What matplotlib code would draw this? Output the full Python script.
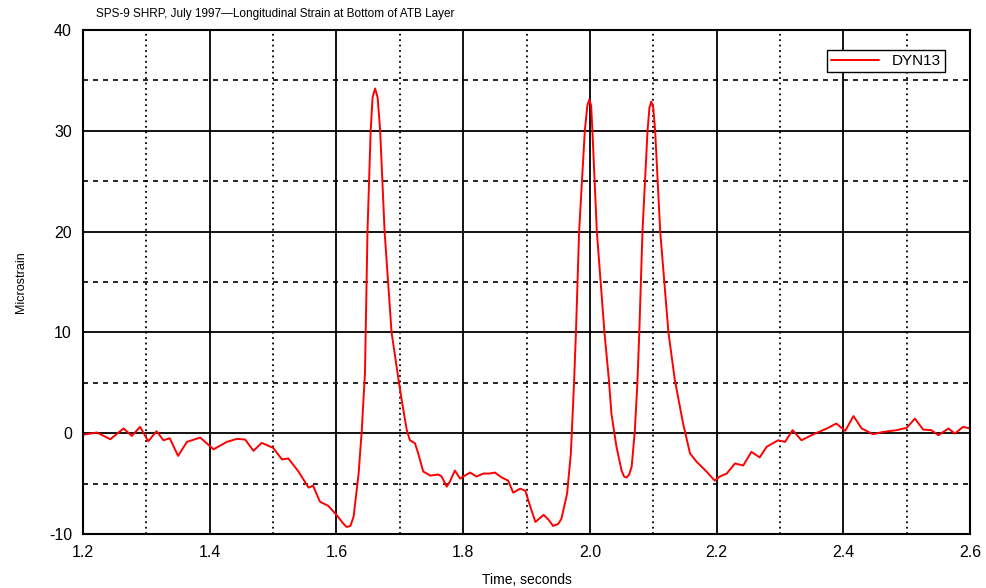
import matplotlib.pyplot as plt
from matplotlib.ticker import MultipleLocator

plt.rcParams['font.family'] = ['Liberation Sans', 'DejaVu Sans']
plt.rcParams['axes.unicode_minus'] = False

# DYN13 trace
time = [1.195, 1.222, 1.243, 1.264, 1.277, 1.290, 1.303, 1.316, 1.327, 1.337,
        1.350, 1.364, 1.385, 1.406, 1.427, 1.443, 1.456, 1.469, 1.482, 1.500,
        1.514, 1.524, 1.540, 1.556, 1.563, 1.574, 1.587, 1.600, 1.610, 1.616,
        1.622, 1.627, 1.635, 1.640, 1.645, 1.649, 1.654, 1.657, 1.661, 1.665,
        1.669, 1.676, 1.687, 1.698, 1.703, 1.711, 1.716, 1.724, 1.729, 1.737,
        1.748, 1.761, 1.766, 1.774, 1.779, 1.787, 1.795, 1.800, 1.811, 1.821,
        1.832, 1.842, 1.850, 1.861, 1.871, 1.879, 1.890, 1.898, 1.906, 1.914,
        1.927, 1.935, 1.942, 1.950, 1.955, 1.964, 1.970, 1.975, 1.978, 1.983,
        1.992, 1.996, 1.999, 2.002, 2.004, 2.011, 2.023, 2.030, 2.034, 2.042,
        2.050, 2.054, 2.058, 2.062, 2.066, 2.071, 2.075, 2.078, 2.083, 2.091,
        2.094, 2.097, 2.100, 2.103, 2.111, 2.124, 2.134, 2.147, 2.158, 2.168,
        2.184, 2.197, 2.205, 2.216, 2.229, 2.242, 2.255, 2.268, 2.279, 2.297,
        2.308, 2.320, 2.334, 2.353, 2.374, 2.389, 2.403, 2.416, 2.429, 2.447,
        2.463, 2.484, 2.500, 2.513, 2.526, 2.539, 2.550, 2.566, 2.576, 2.589,
        2.600]
strain = [-0.2, 0.07, -0.6, 0.47, -0.27, 0.63, -0.8, 0.2, -0.7, -0.5,
          -2.25, -0.86, -0.43, -1.6, -0.86, -0.56, -0.63, -1.75, -0.96, -1.45,
          -2.6, -2.5, -3.8, -5.4, -5.2, -6.8, -7.2, -8.1, -8.9, -9.3,
          -9.2, -8.3, -4.0, 0.3, 6.0, 20.0, 30.0, 33.3, 34.2, 33.3,
          30.0, 20.0, 10.0, 5.3, 3.3, 0.3, -0.7, -1.0, -2.0, -3.8,
          -4.2, -4.1, -4.3, -5.3, -4.8, -3.7, -4.5, -4.3, -3.9, -4.3,
          -4.0, -4.0, -3.9, -4.4, -4.7, -5.9, -5.5, -5.7, -7.3, -8.8,
          -8.1, -8.6, -9.2, -9.0, -8.5, -6.0, -2.0, 5.0, 10.0, 20.0,
          30.0, 32.5, 33.1, 32.5, 30.0, 20.0, 10.0, 5.3, 1.95, -1.35,
          -3.7, -4.3, -4.4, -4.1, -3.3, 0.3, 5.0, 10.0, 20.0, 30.0,
          32.3, 32.9, 32.3, 30.0, 20.0, 10.0, 5.3, 1.0, -2.0, -2.8,
          -3.8, -4.7, -4.3, -4.0, -3.0, -3.2, -1.85, -2.4, -1.35, -0.7,
          -0.86, 0.3, -0.7, -0.1, 0.47, 0.96, 0.23, 1.7, 0.47, -0.1,
          0.13, 0.3, 0.53, 1.45, 0.36, 0.3, -0.2, 0.47, -0.03, 0.63,
          0.47]

fig = plt.figure(figsize=(9.86, 5.88), dpi=100)
ax = fig.add_axes([0.0842, 0.0918, 0.8996, 0.8572])

ax.plot(time, strain, color='red', lw=1.4, label='DYN13',
        solid_joinstyle='round', solid_capstyle='round')

ax.set_xlim(1.2, 2.6)
ax.set_ylim(-10, 40)
ax.xaxis.set_major_locator(MultipleLocator(0.2))
ax.xaxis.set_minor_locator(MultipleLocator(0.1))
ax.yaxis.set_major_locator(MultipleLocator(10))
ax.yaxis.set_minor_locator(MultipleLocator(5))
ax.set_xticklabels([f"{v:.1f}" for v in ax.get_xticks()])

# solid major grid, dotted / dashed minor grid
ax.grid(which='major', color='black', lw=1.3, ls='-')
ax.xaxis.grid(which='minor', color='black', lw=1.3, ls=(0, (1.0, 2.0)))
ax.yaxis.grid(which='minor', color='black', lw=1.2, ls=(0, (3, 3)))
ax.set_axisbelow(True)

ax.tick_params(which='both', length=0, labelsize=11.5, pad=8)
for s in ax.spines.values():
    s.set_linewidth(1.5)

ax.set_xlabel('Time, seconds', fontsize=10, labelpad=9)
ax.set_ylabel('Microstrain', fontsize=9, labelpad=16)
fig.text(0.097, 0.977, 'SPS-9 SHRP, July 1997\u2014Longitudinal Strain at Bottom of ATB Layer',
         fontsize=8.5, va='center', ha='left')

leg = ax.legend(loc='upper right', bbox_to_anchor=(0.98, 0.975), fontsize=11,
                fancybox=False, framealpha=1, edgecolor='black',
                handlelength=3.2, borderpad=0.25)
leg.get_frame().set_linewidth(1.0)

plt.savefig('out.png', dpi=100)
